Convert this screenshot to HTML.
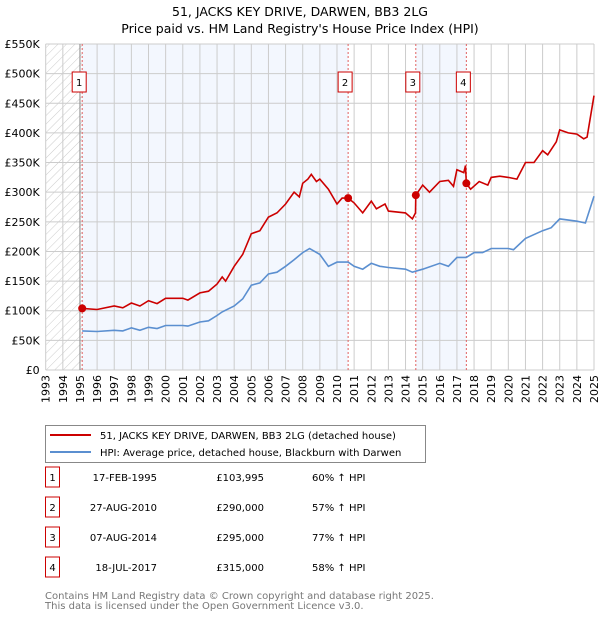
<!DOCTYPE html>
<html><head><meta charset="utf-8"><style>
body{margin:0;background:#fff;font-family:"Liberation Sans","DejaVu Sans",sans-serif;}
svg text{font-family:"DejaVu Sans","Liberation Sans",sans-serif;}
</style></head><body>
<svg id="c" width="600" height="620" xmlns="http://www.w3.org/2000/svg">
<defs><pattern id="hatch" width="6" height="6" patternUnits="userSpaceOnUse" patternTransform="rotate(45)"><line x1="0" y1="0" x2="0" y2="6" stroke="#ccc" stroke-width="1"/></pattern></defs>
<text x="300" y="16" text-anchor="middle" font-size="12.5">51, JACKS KEY DRIVE, DARWEN, BB3 2LG</text>
<text x="300" y="33" text-anchor="middle" font-size="12.5">Price paid vs. HM Land Registry's House Price Index (HPI)</text>
<g id="plot"></g>
<g>
<rect x="45.5" y="425.5" width="380" height="37" fill="#fff" stroke="#888"/>
<line x1="50" y1="435" x2="91" y2="435" stroke="#cc0000" stroke-width="2"/>
<text x="100" y="439" font-size="10">51, JACKS KEY DRIVE, DARWEN, BB3 2LG (detached house)</text>
<line x1="50" y1="452" x2="91" y2="452" stroke="#5b8fd0" stroke-width="2"/>
<text x="100" y="456" font-size="10">HPI: Average price, detached house, Blackburn with Darwen</text>
</g>
<g id="tbl" font-size="10"></g>
<text x="45" y="599" font-size="10" fill="#777">Contains HM Land Registry data © Crown copyright and database right 2025.</text>
<text x="45" y="609" font-size="10" fill="#777">This data is licensed under the Open Government Licence v3.0.</text>
</svg>
<script>
const yTicks=[0,50,100,150,200,250,300,350,400,450,500,550];
const yTickLabels=["£0","£50K","£100K","£150K","£200K","£250K","£300K","£350K","£400K","£450K","£500K","£550K"];
const years=[1993,1994,1995,1996,1997,1998,1999,2000,2001,2002,2003,2004,2005,2006,2007,2008,2009,2010,2011,2012,2013,2014,2015,2016,2017,2018,2019,2020,2021,2022,2023,2024,2025];
const redT=[1995.13,1996,1997,1997.5,1998,1998.5,1999,1999.5,2000,2001,2001.3,2002,2002.5,2003,2003.3,2003.5,2004,2004.5,2005,2005.5,2006,2006.5,2007,2007.5,2007.8,2008,2008.3,2008.5,2008.8,2009,2009.5,2010,2010.3,2010.65,2011,2011.5,2012,2012.3,2012.8,2013,2014,2014.4,2014.58,2014.6,2015,2015.4,2016,2016.5,2016.8,2017,2017.4,2017.5,2017.55,2017.8,2018.3,2018.8,2019,2019.5,2020,2020.5,2021,2021.5,2022,2022.3,2022.8,2023,2023.5,2024,2024.4,2024.6,2025];
const redV=[104,102,108,105,113,108,117,112,121,121,118,130,133,145,157,150,175,195,230,235,258,265,280,300,292,315,322,330,318,322,305,280,290,290,282,265,285,272,280,268,265,255,265,295,312,300,318,320,310,338,333,345,315,305,318,312,325,327,325,322,350,350,370,363,385,405,400,398,390,393,463];
const blueT=[1995.13,1996,1997,1997.5,1998,1998.5,1999,1999.5,2000,2001,2001.3,2002,2002.5,2003,2003.3,2004,2004.5,2005,2005.5,2006,2006.5,2007,2007.5,2008,2008.4,2009,2009.5,2010,2010.65,2011,2011.5,2012,2012.5,2013,2014,2014.4,2015,2016,2016.5,2017,2017.55,2018,2018.5,2019,2020,2020.3,2021,2022,2022.5,2023,2024,2024.5,2025];
const blueV=[66,65,67,66,71,67,72,70,75,75,74,81,83,92,98,108,120,143,147,162,165,175,186,198,205,195,175,182,182,175,170,180,175,173,170,165,170,180,175,190,190,198,198,205,205,203,222,235,240,255,251,248,293];
const saleT=[1995.13,2010.65,2014.6,2017.55];
const saleV=[103.995,290,295,315];
const saleLabels=["1","2","3","4"];
const saleDates=["17-FEB-1995","27-AUG-2010","07-AUG-2014","18-JUL-2017"];
const salePrices=["£103,995","£290,000","£295,000","£315,000"];
const saleHpi=["60% ↑ HPI","57% ↑ HPI","77% ↑ HPI","58% ↑ HPI"];

const NS="http://www.w3.org/2000/svg";
const X0=45.7,X1=594,Y0=370,Y1=44;
const xs=t=>X0+(t-1993)/(2025-1993)*(X1-X0);
const ys=v=>Y0-v/550*(Y0-Y1);
const plot=document.getElementById('plot');
function mk(tag,attrs,parent){const e=document.createElementNS(NS,tag);for(const k in attrs)e.setAttribute(k,attrs[k]);(parent||plot).appendChild(e);return e;}
mk('rect',{x:X0,y:Y1,width:X1-X0,height:Y0-Y1,fill:'#fff'});
let e=mk('rect',{x:X0,y:Y1,width:xs(saleT[0])-X0,height:Y0-Y1,fill:'url(#hatch)'});


e=mk('rect',{x:xs(saleT[0]),y:Y1,width:xs(saleT[1])-xs(saleT[0]),height:Y0-Y1,fill:'#eef3fd',opacity:0.7});


e=mk('rect',{x:xs(saleT[2]),y:Y1,width:xs(saleT[3])-xs(saleT[2]),height:Y0-Y1,fill:'#eef3fd',opacity:0.7});


years.forEach(y=>{
  const g=mk('line',{x1:xs(y),x2:xs(y),y1:Y1,y2:Y0,stroke:'#ccc','stroke-width':1});
  
  
  const t=mk('text',{x:0,y:0,'font-size':11,'text-anchor':'end',transform:`translate(${xs(y)+4},${Y0+5}) rotate(-90)`});
  t.textContent=y;
  
  
});
yTicks.forEach((v,i)=>{
  const g=mk('line',{x1:X0,x2:X1,y1:ys(v),y2:ys(v),stroke:'#ccc','stroke-width':1});
  
  
  const t=mk('text',{x:X0-6,y:ys(v)+4,'font-size':11,'text-anchor':'end'});
  t.textContent=yTickLabels[i];
  
  
});
e=mk('line',{x1:xs(1995),x2:xs(1995),y1:Y1,y2:Y0,stroke:'#888'});


saleT.forEach((t,i)=>{
  const l=mk('line',{x1:xs(t),x2:xs(t),y1:Y1,y2:Y0,stroke:'#e06060','stroke-dasharray':'2,2','stroke-width':1});
  
  
});
function path(T,V,col,name){
  const d=T.map((t,i)=>(i?'L':'M')+xs(t).toFixed(1)+','+ys(V[i]).toFixed(1)).join('');
  const p=mk('path',{d:d,fill:'none',stroke:col,'stroke-width':1.6});
  
  
}
path(blueT,blueV,'#5b8fd0','hpi-line');
path(redT,redV,'#cc0000','price-paid-line');
saleT.forEach((t,i)=>{
  const c=mk('circle',{cx:xs(t),cy:ys(saleV[i]),r:4,fill:'#cc0000'});
  
  
  const r=mk('rect',{x:xs(t)-10,y:72,width:14,height:20,fill:'#fff',stroke:'#cc0000'});
  
  
  const tx=mk('text',{x:xs(t)-3,y:86,'font-size':10,'text-anchor':'middle'});
  tx.textContent=saleLabels[i];
  
  
});
const tbl=document.getElementById('tbl');
saleT.forEach((t,i)=>{
  const y=483+i*30;
  const r=mk('rect',{x:45.5,y:y-16,width:14,height:20,fill:'#fff',stroke:'#cc0000'},tbl);
  
  
  const a=mk('text',{x:52.5,y:y-2,'text-anchor':'middle'},tbl);a.textContent=saleLabels[i];
  
  
  const b=mk('text',{x:157,y:y-2,'text-anchor':'end'},tbl);b.textContent=saleDates[i];
  
  
  const c=mk('text',{x:264,y:y-2,'text-anchor':'end'},tbl);c.textContent=salePrices[i];
  
  
  const d=mk('text',{x:312,y:y-2},tbl);d.textContent=saleHpi[i];
  
  
});
</script>
</body></html>
